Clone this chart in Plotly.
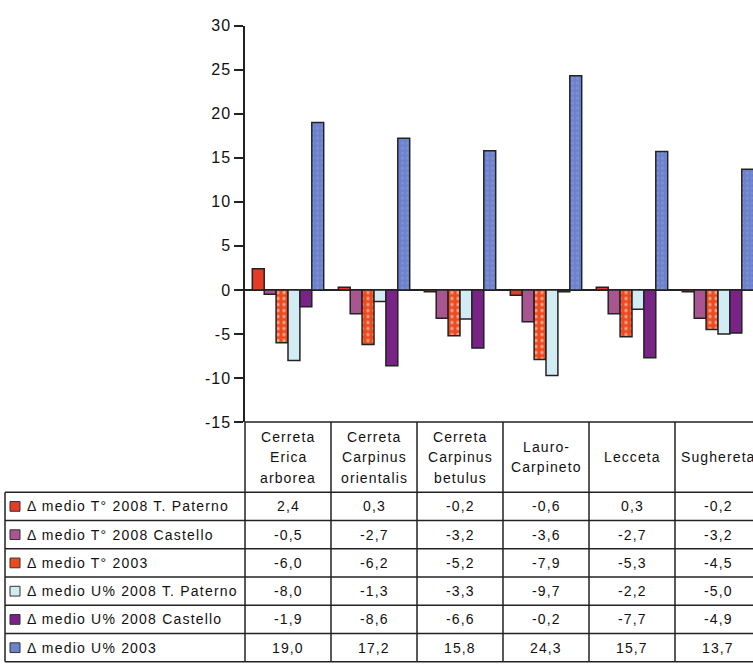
import plotly.graph_objects as go

# Forest types (table header lines split with "\n")
categories = [
    "Cerreta\nErica\narborea",
    "Cerreta\nCarpinus\norientalis",
    "Cerreta\nCarpinus\nbetulus",
    "Lauro-\nCarpineto",
    "Lecceta",
    "Sughereta",
]

series_names = [
    "Δ medio T° 2008 T. Paterno",
    "Δ medio T° 2008 Castello",
    "Δ medio T° 2003",
    "Δ medio U% 2008 T. Paterno",
    "Δ medio U% 2008 Castello",
    "Δ medio U% 2003",
]

t2008_paterno = [2.4, 0.3, -0.2, -0.6, 0.3, -0.2]
t2008_castello = [-0.5, -2.7, -3.2, -3.6, -2.7, -3.2]
t2003 = [-6.0, -6.2, -5.2, -7.9, -5.3, -4.5]
u2008_paterno = [-8.0, -1.3, -3.3, -9.7, -2.2, -5.0]
u2008_castello = [-1.9, -8.6, -6.6, -0.2, -7.7, -4.9]
u2003 = [19.0, 17.2, 15.8, 24.3, 15.7, 13.7]

series_values = [t2008_paterno, t2008_castello, t2003,
                 u2008_paterno, u2008_castello, u2003]

y_ticks = [-15, -10, -5, 0, 5, 10, 15, 20, 25, 30]

# ---- styling ----
W, H = 753, 664
FONT = "Arial, Liberation Sans, sans-serif"
EDGE = "#222222"
TEXT = "#111111"
colors = ["#e63b26", "#a9558f", "#ee4a1e", "#d2ecf4", "#7a2386", "#6d82cc"]
patterns = [
    None,
    None,
    dict(shape=".", fgcolor="#ffffff", bgcolor="#ee4a1e", size=6, solidity=0.25),
    None,
    None,
    dict(shape=".", fgcolor="#8c9fdc", bgcolor="#6d82cc", size=5, solidity=0.3),
]


def spaced(s, ls=1.1):
    return f'<span style="letter-spacing:{ls}px">{s}</span>'


def px_x(p):
    return p / W


def px_y(p):
    return 1 - p / H


# plot area in pixels
AX_LEFT, AX_TOP, AX_BOTTOM = 245, 18, 425
CAT_W = 86.0
x_max = -0.5 + (W - AX_LEFT) / CAT_W

xs = list(range(len(categories)))

fig = go.Figure()
for name, vals, col, pat in zip(series_names, series_values, colors, patterns):
    marker = dict(color=col, line=dict(color=EDGE, width=1.5))
    if pat:
        marker["pattern"] = pat
    fig.add_trace(go.Bar(x=xs, y=vals, name=name, marker=marker))

# ---- data table under the chart ----
HEADER_BOTTOM = 497
ROW_H = 29
LEG_LEFT = 5
table_bottom = HEADER_BOTTOM + ROW_H * len(series_names)

shapes = []
line = dict(color=EDGE, width=1.5)
# header top and row separators
shapes.append(dict(type="line", xref="paper", yref="paper",
                   x0=px_x(AX_LEFT), x1=1, y0=px_y(AX_BOTTOM), y1=px_y(AX_BOTTOM), line=line))
for r in range(len(series_names) + 1):
    yy = px_y(HEADER_BOTTOM + r * ROW_H)
    shapes.append(dict(type="line", xref="paper", yref="paper",
                       x0=px_x(LEG_LEFT), x1=1, y0=yy, y1=yy, line=line))
# vertical borders
shapes.append(dict(type="line", xref="paper", yref="paper",
                   x0=px_x(LEG_LEFT), x1=px_x(LEG_LEFT),
                   y0=px_y(HEADER_BOTTOM), y1=px_y(table_bottom), line=line))
shapes.append(dict(type="line", xref="paper", yref="paper",
                   x0=px_x(AX_LEFT), x1=px_x(AX_LEFT),
                   y0=px_y(AX_BOTTOM), y1=px_y(table_bottom), line=line))
for k in range(len(categories)):
    shapes.append(dict(type="line", xref="x", yref="paper",
                       x0=k + 0.5, x1=k + 0.5,
                       y0=px_y(AX_BOTTOM), y1=px_y(table_bottom), line=line))

annotations = []
# header cells
LINE_GAP = 21
for k, cat in enumerate(categories):
    parts = cat.split("\n")
    mid = (AX_BOTTOM + HEADER_BOTTOM) / 2
    start = mid - LINE_GAP * (len(parts) - 1) / 2
    for i, part in enumerate(parts):
        annotations.append(dict(x=k, y=px_y(start + i * LINE_GAP), xref="x", yref="paper",
                                text=spaced(part), showarrow=False,
                                xanchor="center", yanchor="middle",
                                font=dict(family=FONT, size=14, color=TEXT)))

# value cells + legend keys
for r, (name, vals, col) in enumerate(zip(series_names, series_values, colors)):
    yc = px_y(HEADER_BOTTOM + r * ROW_H + ROW_H / 2)
    shapes.append(dict(type="rect", xref="paper", yref="paper",
                       x0=px_x(10), x1=px_x(20),
                       y0=yc - 5 / H, y1=yc + 5 / H,
                       fillcolor=col, line=dict(color="#333333", width=1)))
    annotations.append(dict(x=px_x(25), y=yc, xref="paper", yref="paper",
                            text=spaced(name, 1.2), showarrow=False,
                            xanchor="left", yanchor="middle",
                            font=dict(family=FONT, size=14, color=TEXT)))
    for k, v in enumerate(vals):
        annotations.append(dict(x=k, y=yc, xref="x", yref="paper",
                                text=spaced(f"{v:.1f}".replace(".", ",")), showarrow=False,
                                xanchor="center", yanchor="middle",
                                font=dict(family=FONT, size=14, color=TEXT)))

fig.update_layout(
    width=W, height=H,
    margin=dict(l=0, r=0, t=0, b=0),
    paper_bgcolor="white", plot_bgcolor="white",
    barmode="group", bargap=0.17, bargroupgap=0,
    showlegend=False,
    shapes=shapes,
    annotations=annotations,
    xaxis=dict(domain=[px_x(AX_LEFT), 1], range=[-0.5, x_max],
               showticklabels=False, showgrid=False, zeroline=False, showline=False,
               ticks=""),
    yaxis=dict(domain=[px_y(AX_BOTTOM), px_y(AX_TOP)], range=[-15, 30],
               tickvals=y_ticks, ticktext=[spaced(str(t), 1.0) for t in y_ticks],
               ticks="outside", ticklen=9, tickwidth=1.5,
               tickcolor=EDGE, showline=True, linecolor=EDGE, linewidth=1.5,
               showgrid=False, zeroline=True, zerolinecolor=EDGE, zerolinewidth=1.5,
               tickfont=dict(family=FONT, size=16, color=TEXT)),
)

fig.write_html("out.html")
